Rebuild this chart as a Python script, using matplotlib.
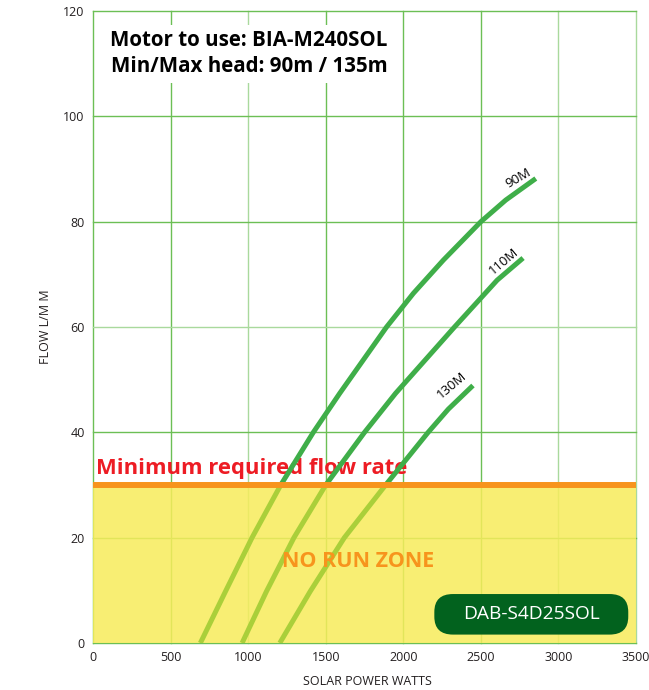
import matplotlib
matplotlib.use("Agg")
import matplotlib.pyplot as plt
from matplotlib.patches import FancyBboxPatch, Rectangle

# Data
watts_90 = [692, 854, 1025, 1210, 1420, 1590, 1892, 2065, 2258, 2500, 2660, 2854]
flow_90 = [0, 9.8, 20, 30, 40, 47.4, 60, 66.4, 72.7, 80, 84.1, 88.2]
watts_110 = [961, 1118, 1295, 1500, 1750, 1950, 2330, 2500, 2605, 2772]
flow_110 = [0, 9.8, 20, 30, 40, 47.4, 60, 65.5, 68.9, 73.1]
watts_130 = [1204, 1400, 1620, 1886, 2160, 2290, 2449]
flow_130 = [0, 9.8, 20, 30, 40, 44.4, 48.9]
curve_labels = ["90M", "110M", "130M"]
min_flow = 30
x_ticks = [0, 500, 1000, 1500, 2000, 2500, 3000, 3500]
y_ticks = [0, 20, 40, 60, 80, 100, 120]

fig = plt.figure(figsize=(6.49, 6.9), dpi=100)
ax = fig.add_axes([0.1433, 0.0681, 0.8367, 0.9159])
ax.set_xlim(0, 3500)
ax.set_ylim(0, 120)
ax.set_xticks(x_ticks)
ax.set_yticks(y_ticks)
grid_c = "#6cbf55"
light_c = "#a9d99d"
for xv in x_ticks:
    c = light_c if xv in (1000, 3000, 3500) else grid_c
    ax.axvline(xv, color=c, lw=1.0, zorder=1, clip_on=False)
for yv in y_ticks:
    c = light_c if yv == 60 else grid_c
    ax.axhline(yv, color=c, lw=1.0, zorder=1, clip_on=False)
for s in ax.spines.values():
    s.set_visible(False)
ax.tick_params(length=0, labelsize=9, colors="#231f20", pad=6)
for lab in ax.get_xticklabels() + ax.get_yticklabels():
    lab.set_family("Open Sans")

# no run zone overlay (over gridlines)
ax.axhspan(0, min_flow, color="#f7ec5c", alpha=0.86, zorder=2, lw=0)

ax.text(22, 33.2, "Minimum required flow rate", color="#ed1c24", fontsize=15.8,
        fontweight="bold", ha="left", va="center", family="Open Sans", zorder=2.5)

green = "#3fae49"
zone_green = "#aacf3a"
above = Rectangle((0, min_flow), 3500, 120 - min_flow, transform=ax.transData)
below = Rectangle((0, 0), 3500, min_flow, transform=ax.transData)
for wx, fy in [(watts_90, flow_90), (watts_110, flow_110), (watts_130, flow_130)]:
    l1, = ax.plot(wx, fy, color=green, lw=3.6, solid_capstyle="butt",
                  solid_joinstyle="round", zorder=3)
    l1.set_clip_path(above)
    l2, = ax.plot(wx, fy, color=zone_green, lw=3.6, solid_capstyle="butt",
                  solid_joinstyle="round", zorder=3)
    l2.set_clip_path(below)

ax.axhline(min_flow, color="#f7941d", lw=4.3, zorder=4)

ax.text(1712, 15.5, "NO RUN ZONE", color="#f7941d", fontsize=15.5, fontweight="bold",
        ha="center", va="center", family="Open Sans", zorder=5)

ax.text(1005, 111.9, "Motor to use: BIA-M240SOL\nMin/Max head: 90m / 135m", color="black",
        fontsize=14.8, fontweight="bold", ha="center", va="center", family="Open Sans",
        linespacing=1.3, zorder=5,
        bbox=dict(facecolor="white", edgecolor="none", pad=4))

ax.text(2744, 88.3, curve_labels[0], fontsize=9.5, rotation=30, ha="center", va="center",
        family="Open Sans", zorder=5)
ax.text(2647, 72.4, curve_labels[1], fontsize=9.5, rotation=40, ha="center", va="center",
        family="Open Sans", zorder=5)
ax.text(2313, 49.0, curve_labels[2], fontsize=9.5, rotation=40, ha="center", va="center",
        family="Open Sans", zorder=5)

box = FancyBboxPatch((2200, 1.6), 1250, 7.7, boxstyle="round,pad=0,rounding_size=120",
                     mutation_aspect=7.7 / 1250 * 4.6, facecolor="#02621e", edgecolor="none",
                     zorder=6)
ax.add_patch(box)
ax.text(2825, 5.5, "DAB-S4D25SOL", color="white", fontsize=13.8, ha="center", va="center",
        family="Open Sans", zorder=7)

ax.set_xlabel("SOLAR POWER WATTS", fontsize=9, family="Open Sans", color="#231f20")
ax.xaxis.set_label_coords(0.506, -0.05)
ax.set_ylabel("FLOW L/M M", fontsize=9, family="Open Sans", color="#231f20")
ax.yaxis.set_label_coords(-0.075, 0.5)

fig.savefig("out.png", dpi=100, facecolor="white")
